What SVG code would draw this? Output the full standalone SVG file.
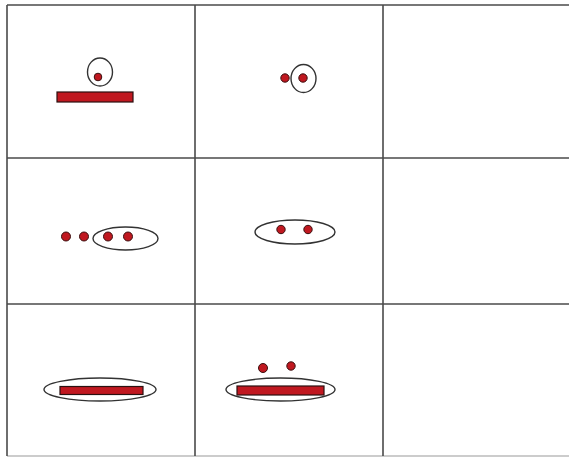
<svg xmlns="http://www.w3.org/2000/svg" width="569" height="457" viewBox="0 0 569 457">
<style>
.grid{stroke:#4a4a4a;stroke-width:1.6;fill:none}
.ring{fill:none;stroke:#333;stroke-width:1.4}
.dot{fill:#c01820;stroke:#3a1010;stroke-width:1}
.bar{fill:#c01820;stroke:#2a1010;stroke-width:1.2}
</style>
<rect width="569" height="457" fill="#fff"/>
<g id="grid" class="grid">
<line x1="7" y1="5" x2="569" y2="5"/>
<line x1="7" y1="158" x2="569" y2="158"/>
<line x1="7" y1="304" x2="569" y2="304"/>
<line x1="7" y1="456" x2="569" y2="456" stroke="#bbb"/>
<line x1="7" y1="5" x2="7" y2="456"/>
<line x1="195" y1="5" x2="195" y2="456"/>
<line x1="383" y1="5" x2="383" y2="456"/>
</g>
<g id="cell1">
<ellipse class="ring" cx="100" cy="72" rx="12.5" ry="14"/>
<circle class="dot" cx="98" cy="77" r="3.8"/>
<rect class="bar" x="57" y="92" width="76" height="10"/>
</g>
<g id="cell2">
<circle class="dot" cx="285" cy="78" r="4.2"/>
<ellipse class="ring" cx="303.5" cy="78.5" rx="12.5" ry="14"/>
<circle class="dot" cx="303" cy="78" r="4.2"/>
</g>
<g id="cell3">
<circle class="dot" cx="66" cy="236.5" r="4.5"/>
<circle class="dot" cx="84" cy="236.5" r="4.5"/>
<circle class="dot" cx="108" cy="236.5" r="4.5"/>
<circle class="dot" cx="128" cy="236.5" r="4.5"/>
<ellipse class="ring" cx="125.5" cy="238.5" rx="32.5" ry="11.5"/>
</g>
<g id="cell4">
<ellipse class="ring" cx="295" cy="232" rx="40" ry="12"/>
<circle class="dot" cx="281" cy="229.5" r="4.2"/>
<circle class="dot" cx="308" cy="229.5" r="4.2"/>
</g>
<g id="cell5">
<ellipse class="ring" cx="100" cy="389.5" rx="56" ry="11.5"/>
<rect class="bar" x="60" y="386.5" width="83" height="8"/>
</g>
<g id="cell6">
<circle class="dot" cx="263" cy="368" r="4.5"/>
<circle class="dot" cx="291" cy="366" r="4.2"/>
<ellipse class="ring" cx="280.5" cy="389.5" rx="54.5" ry="11.5"/>
<rect class="bar" x="237" y="386" width="87" height="9"/>
</g>
</svg>
